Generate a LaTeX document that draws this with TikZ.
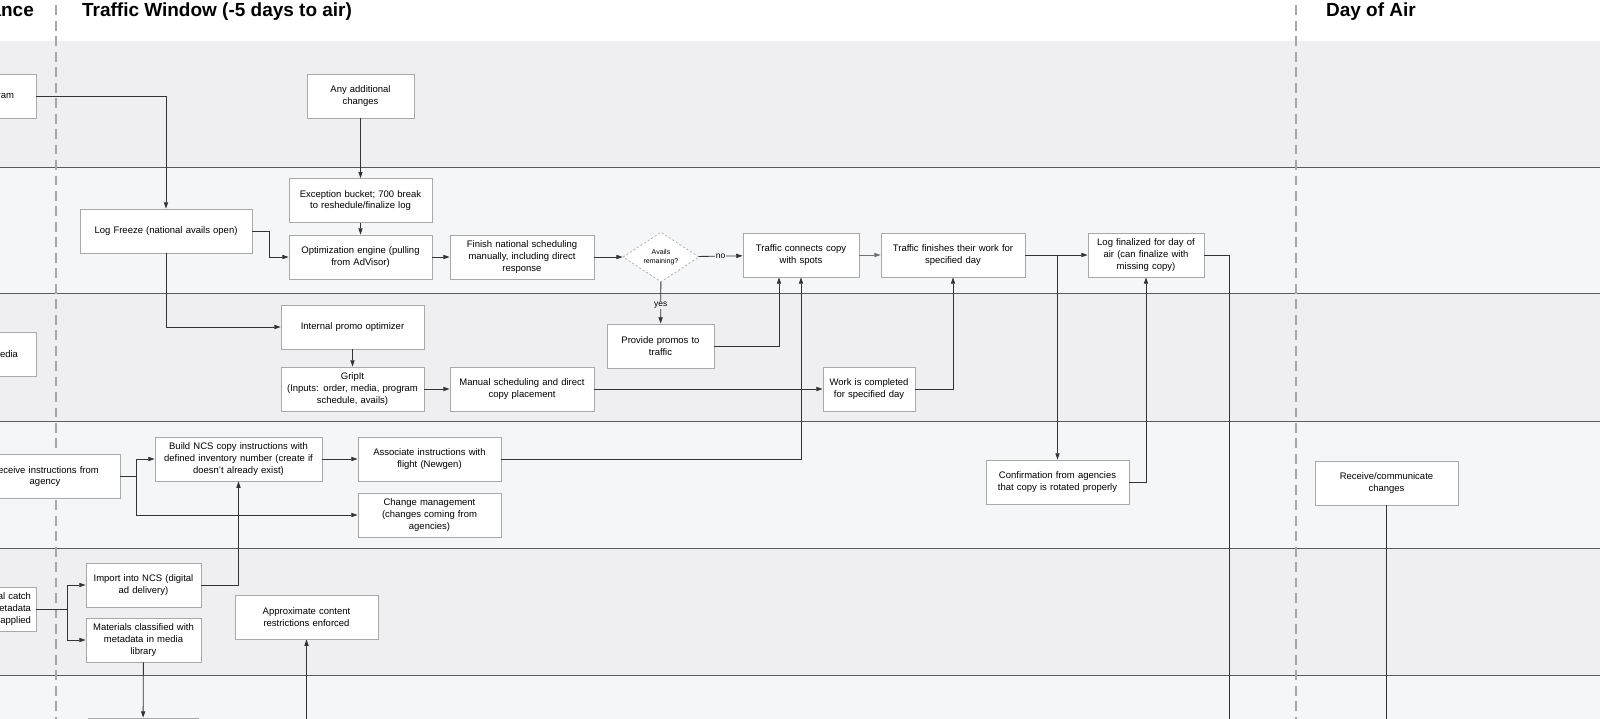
\documentclass[tikz,border=0pt]{standalone}
\usepackage{fontspec}
\setmainfont{Liberation Sans}
\usetikzlibrary{shapes.geometric, arrows.meta, calc}
\definecolor{laneA}{HTML}{EFEFF1}
\definecolor{laneB}{HTML}{F5F6F8}
\definecolor{boxline}{HTML}{A9A9A9}
\definecolor{flow}{HTML}{333333}
\tikzset{
    box/.style={rectangle, draw=boxline, line width=1.2pt, fill=white, align=center, inner sep=0pt, minimum height=2.2cm, font=\fontsize{13.5}{16.5}\selectfont},
    bw/.style 2 args={minimum width=#1cm, text width=#2cm},
    decision/.style={diamond, draw=boxline, dashed, line width=1pt, fill=white, align=center, inner sep=0pt, minimum width=3.8cm, minimum height=2.4cm, font=\fontsize{10}{12}\selectfont},
    arrow/.style={draw=flow, line width=1.2pt, -{Triangle[length=9pt, width=6pt]}},
    link/.style={draw=flow, line width=1.2pt},
    sep/.style={draw=flow!80, line width=1.4pt},
    phase/.style={draw=gray!70, line width=1.6pt, dash pattern=on 14pt off 8pt},
    title/.style={font=\fontsize{27}{30}\selectfont\bfseries, inner sep=0pt},
    tag/.style={font=\fontsize{12}{14}\selectfont, fill=laneA, inner sep=1pt}
}

\begin{document}
\begin{tikzpicture}[x=0.05cm, y=-0.05cm]
        \useasboundingbox (0,0) rectangle (1600,719);
        \clip (0,0) rectangle (1600,719);

        % Lanes
        \fill[white] (-10,-10) rectangle (1610,41);
        \fill[laneA] (-10,41) rectangle (1610,167);
        \fill[laneB] (-10,167) rectangle (1610,293);
        \fill[laneA] (-10,293) rectangle (1610,421);
        \fill[laneB] (-10,421) rectangle (1610,548);
        \fill[laneA] (-10,548) rectangle (1610,675);
        \fill[laneB] (-10,675) rectangle (1610,730);
        \foreach \y in {167, 293, 421, 548, 675}
            \draw[sep] (-10,\y) -- (1610,\y);
        \draw[phase] (56,-10) -- (56,730);
        \draw[phase] (1296,-10) -- (1296,730);

        % Phase titles
        \node (T_prev) [title, anchor=base east] at (34,16) {Advance};
        \node (T_traffic) [title, anchor=base west] at (82,16) {Traffic Window (-5 days to air)};
        \node (T_day) [title, anchor=base west] at (1326,16) {Day of Air};

        % Left column (cut off)
        \node (Prog) [box, bw={6.8}{4.6}, align=right] at (-32,96) {Program\\[1.1em]};
        \node (Media) [box, bw={6.8}{5.0}, align=right] at (-32,354) {Media};
        \node (Recv) [box, bw={7.5}{7.0}] at (45,476.5) {Receive instructions from\\agency};
        \node (Catch) [box, bw={6.8}{6.3}, align=right] at (-32,609) {Technical catch\\metadata\hspace*{0.4cm}\\applied\hspace*{1.0cm}};
        \node (Lower) [box, bw={5.5}{5.0}] at (143,740) {};

        % Traffic window
        \node (Addl) [box, bw={5.35}{4.8}] at (360.5,96) {Any additional\\changes};
        \node (Except) [box, bw={7.15}{6.6}] at (360.5,200.5) {Exception bucket; 700 break\\to reshedule/finalize log};
        \node (LogFreeze) [box, bw={8.6}{8.2}] at (166,231) {Log Freeze (national avails open)};
        \node (OptEngine) [box, bw={7.15}{6.6}] at (360.5,257) {Optimization engine (pulling\\from AdVisor)};
        \node (Finish) [box, bw={7.2}{6.8}] at (522,257) {Finish national scheduling\\manually, including direct\\response};
        \node (Avails) [decision] at (661,257) {Avails\\remaining?};
        \node (Connect) [box, bw={5.8}{5.4}] at (801,255) {Traffic connects copy\\with spots};
        \node (TrFinish) [box, bw={7.2}{6.8}] at (953,255) {Traffic finishes their work for\\specified day};
        \node (LogFinal) [box, bw={5.8}{5.5}] at (1146,255) {Log finalized for day of\\air (can finalize with\\missing copy)};

        \node (Promo) [box, bw={7.15}{6.6}] at (352.5,327) {Internal promo optimizer};
        \node (GripIt) [box, bw={7.15}{6.9}] at (352.5,389) {GripIt\\(Inputs: order, media, program\\schedule, avails)};
        \node (Provide) [box, bw={5.35}{4.8}] at (660.5,346) {Provide promos to\\traffic};
        \node (Manual) [box, bw={7.2}{6.8}] at (522,389) {Manual scheduling and direct\\copy placement};
        \node (WorkDone) [box, bw={4.6}{4.4}] at (869,389) {Work is completed\\for specified day};

        \node (BuildNCS) [box, bw={8.35}{8.0}] at (238.5,459) {Build NCS copy instructions with\\defined inventory number (create if\\doesn't already exist)};
        \node (Assoc) [box, bw={7.15}{6.6}] at (429.5,459) {Associate instructions with\\flight (Newgen)};
        \node (ChangeMgmt) [box, bw={7.15}{6.6}] at (429.5,515) {Change management\\(changes coming from\\agencies)};
        \node (Confirm) [box, bw={7.15}{6.9}] at (1057.5,482) {Confirmation from agencies\\that copy is rotated properly};

        \node (Import) [box, bw={5.75}{5.4}] at (143.5,585) {Import into NCS (digital\\ad delivery)};
        \node (Materials) [box, bw={5.75}{5.5}] at (143.5,640) {Materials classified with\\metadata in media\\library};
        \node (Approx) [box, bw={7.15}{6.6}] at (306.5,617) {Approximate content\\restrictions enforced};

        % Day of air
        \node (RecvComm) [box, bw={7.15}{6.6}] at (1386.5,483) {Receive/communicate\\changes};

        % Free ends below the picture
        \coordinate (LogFinal_end) at (1229,730);
        \coordinate (Approx_src) at (306.5,730);
        \coordinate (RecvComm_end) at (1386.5,730);

        % Log freeze and national flow
        \draw[arrow] (Prog.east) -| (LogFreeze.north);
        \draw[arrow] (LogFreeze.east) -- ++(17,0) |- (OptEngine.west);
        \draw[arrow] (LogFreeze.south) |- (Promo.west);
        \draw[arrow] (Addl) -- (Except);
        \draw[arrow] (Except) -- (OptEngine);
        \draw[arrow] (OptEngine) -- (Finish);
        \draw[arrow] (Finish) -- (Avails);
        \draw[arrow] (Avails) -- node[tag, fill=laneB] {no} (Connect);
        \draw[arrow] (Avails) -- node[tag, pos=0.55] {yes} (Provide);
        \draw[arrow] (Provide.east) -| ($(Connect.south)+(-22,0)$);
        \draw[arrow, draw=flow!70] (Connect) -- (TrFinish);
        \draw[arrow] (TrFinish) -- (LogFinal);
        \draw[arrow] (TrFinish.east -| Confirm.north) -- (Confirm.north);
        \draw[arrow] (Confirm.east) -| (LogFinal.south);
        \draw[link] (LogFinal.east) -| (LogFinal_end);

        % Promo flow
        \draw[arrow] (Promo) -- (GripIt);
        \draw[arrow] (GripIt) -- (Manual);
        \draw[arrow] (Manual) -- (WorkDone);
        \draw[arrow] (WorkDone.east) -| (TrFinish.south);

        % Agency instructions
        \draw[arrow] (Recv.east) -- ++(16,0) |- (BuildNCS.west);
        \draw[arrow] (Recv.east) -- ++(16,0) |- (ChangeMgmt.west);
        \draw[arrow] (BuildNCS) -- (Assoc);
        \draw[arrow] (Assoc.east) -| (Connect.south);

        % Materials
        \draw[arrow] (Catch.east) -- ++(31,0) |- (Import.west);
        \draw[arrow] (Catch.east) -- ++(31,0) |- (Materials.west);
        \draw[arrow] (Import.east) -| (BuildNCS.south);
        \draw[arrow] (Materials) -- (Lower);
        \draw[arrow] (Approx_src) -- (Approx.south);
        \draw[link] (RecvComm.south) -- (RecvComm_end);

    \end{tikzpicture}
\end{document}
